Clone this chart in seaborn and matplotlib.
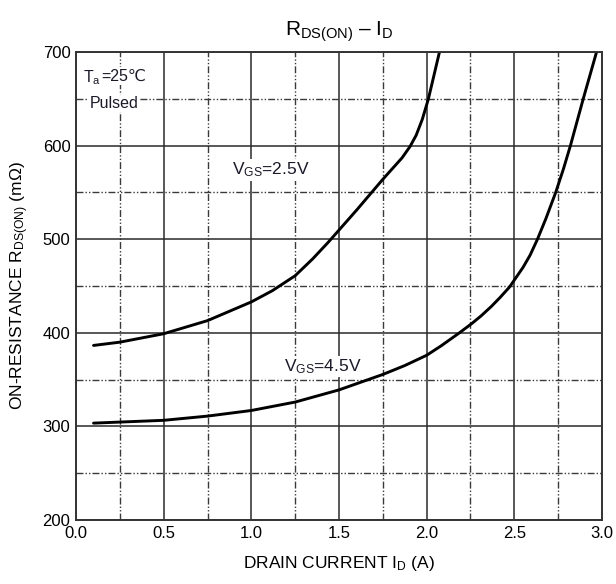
import numpy as np
import pandas as pd
import matplotlib
matplotlib.use("Agg")
import matplotlib.pyplot as plt
import seaborn as sns

# Data
id_25 = [0.1, 0.25, 0.5, 0.75, 1.0, 1.12, 1.25, 1.35, 1.44, 1.6, 1.75, 1.86, 1.905, 1.94,
         1.975, 2.01, 2.073]
r_25 = [386.5, 390, 399, 413, 433, 445, 461, 479, 497, 531, 564, 587, 599, 611,
        628, 650, 700]
id_45 = [0.1, 0.5, 0.75, 1.0, 1.25, 1.5, 1.75, 1.875, 2.0, 2.082, 2.187, 2.258, 2.31, 2.368,
         2.42, 2.473, 2.506, 2.55, 2.59, 2.632, 2.68, 2.736, 2.78, 2.82, 2.893, 2.969]
r_45 = [303.5, 306.5, 311, 317, 326, 339, 355.5, 365, 376, 386, 400, 410, 418, 428,
        438, 449, 458, 470, 483, 500, 522, 550, 575, 600, 650, 700]
x_ticks = [0.0, 0.5, 1.0, 1.5, 2.0, 2.5, 3.0]
y_ticks = [200, 300, 400, 500, 600, 700]

df = pd.concat([
    pd.DataFrame({"id": id_25, "r": r_25, "vgs": "2.5V"}),
    pd.DataFrame({"id": id_45, "r": r_45, "vgs": "4.5V"}),
])

sns.set_theme(style="white")
plt.rcParams["font.family"] = ["Liberation Sans", "DejaVu Sans"]
plt.rcParams["mathtext.fontset"] = "custom"
plt.rcParams["mathtext.rm"] = "Liberation Sans"

fig = plt.figure(figsize=(6.16, 5.84), dpi=100)
ax = fig.add_axes([76 / 616, 1 - 520 / 584, (602 - 76) / 616, (520 - 52) / 584])

sns.lineplot(data=df, x="id", y="r", hue="vgs", palette=["black", "black"],
             linewidth=2.1, legend=False, ax=ax, sort=False, estimator=None)
for ln in ax.get_lines():
    ln.set_solid_joinstyle("round")

ax.set_xlim(0, 3.0)
ax.set_ylim(200, 700)
ax.set_xticks(x_ticks)
ax.set_xticklabels([f"{v:.1f}" for v in x_ticks])
ax.set_yticks(y_ticks)
ax.set_xticks(np.arange(0.25, 3.0, 0.5), minor=True)
ax.set_yticks(np.arange(250, 700, 100), minor=True)
ax.grid(which="major", color="#2a2a2a", linewidth=1.1, linestyle="-")
ax.grid(which="minor", color="#3a3a3a", linewidth=1.0,
        linestyle=(0, (5, 1.5, 1, 1.5, 1, 1.5)))
ax.set_axisbelow(True)
ax.tick_params(which="both", length=0, labelsize=12, colors="black", pad=4)
for s in ax.spines.values():
    s.set_color("#333333")
    s.set_linewidth(1.4)

ax.set_xlabel(r"DRAIN CURRENT $\mathregular{I_D}$ (A)", fontsize=12.5, labelpad=10, color="black")
ax.set_ylabel(r"ON-RESISTANCE $\mathregular{R_{DS(ON)}}$ (m$\mathregular{\Omega}$)", fontsize=12.5,
              labelpad=8, color="black")
ax.set_title(r"$\mathregular{R_{DS(ON)}}$ – $\mathregular{I_D}$", fontsize=15, pad=12, color="black")

box = dict(facecolor="white", edgecolor="none", pad=1.0)
ax.text(0.145, 673, r"$\mathregular{T_a}$", fontsize=11.5, ha="right", va="center",
        color="#1a1a28", bbox=box)
ax.text(0.145, 674.5, "=25℃", fontsize=11.5, ha="left", va="center",
        color="#1a1a28", bbox=box, family=["Liberation Sans", "DejaVu Sans"])
ax.text(0.22, 645, "Pulsed", fontsize=11.5, ha="center", va="center", color="#1a1a28", bbox=box)
ax.text(0.89, 574, r"$\mathregular{V_{GS}}$=2.5V", fontsize=12.5, ha="left", va="center",
        color="#1a1a28", bbox=box)
ax.text(1.185, 364, r"$\mathregular{V_{GS}}$=4.5V", fontsize=12.5, ha="left", va="center",
        color="#1a1a28", bbox=box)

fig.savefig("out.png", dpi=100, facecolor="white")
